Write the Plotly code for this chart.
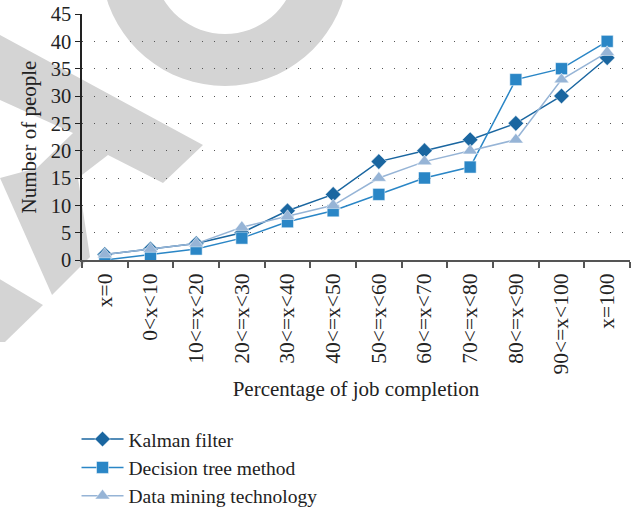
import math
import plotly.graph_objects as go

categories = ["x=0", "0<x<10", "10<=x<20", "20<=x<30", "30<=x<40", "40<=x<50",
              "50<=x<60", "60<=x<70", "70<=x<80", "80<=x<90", "90<=x<100", "x=100"]
kalman = [1, 2, 3, 5, 9, 12, 18, 20, 22, 25, 30, 37]
decision_tree = [0, 1, 2, 4, 7, 9, 12, 15, 17, 33, 35, 40]
data_mining = [1, 2, 3, 6, 8, 10, 15, 18, 20, 22, 33, 38]
y_ticks = [0, 5, 10, 15, 20, 25, 30, 35, 40, 45]

W, H = 635, 510
ML, MR, MT, MB = 82, 5, 14, 250
PW, PH = W - ML - MR, H - MT - MB

def to_paper(px, py):
    return ((px - ML) / PW, (H - MB - py) / PH)

def poly_path(pts):
    s = ""
    for i, (px, py) in enumerate(pts):
        x, y = to_paper(px, py)
        s += ("M" if i == 0 else "L") + f"{x:.4f},{y:.4f}"
    return s + "Z"

WM = "#d4d4d4"
shapes = []
shapes.append(dict(type="path", xref="paper", yref="paper", layer="below",
                   fillcolor=WM, line=dict(width=0),
                   path=poly_path([(0, 35), (203, 145), (163, 183), (108, 155), (78, 178),
                                   (90, 257), (52, 295), (0, 178), (37, 168), (73, 133),
                                   (0, 100)])))
shapes.append(dict(type="path", xref="paper", yref="paper", layer="below",
                   fillcolor=WM, line=dict(width=0),
                   path=poly_path([(-2, 278), (43, 305), (5, 342), (-2, 342)])))
cx, cy, R, r = 225, -38, 124, 72
outer = [(cx + R * math.cos(2 * math.pi * k / 72), cy + R * math.sin(2 * math.pi * k / 72)) for k in range(72)]
inner = [(cx + r * math.cos(-2 * math.pi * k / 72), cy + r * math.sin(-2 * math.pi * k / 72)) for k in range(72)]
shapes.append(dict(type="path", xref="paper", yref="paper", layer="below",
                   fillcolor=WM, line=dict(width=0),
                   path=poly_path(outer) + poly_path(inner)))

FONT = "Liberation Serif, Times New Roman, DejaVu Serif, serif"
TXT = "#222"
fig = go.Figure()
fig.add_trace(go.Scatter(x=categories, y=kalman, name="Kalman filter", mode="lines+markers",
                         line=dict(color="#1a66a0", width=1.5),
                         marker=dict(symbol="diamond", size=12, color="#1a66a0",
                                     line=dict(color="white", width=0.5))))
fig.add_trace(go.Scatter(x=categories, y=decision_tree, name="Decision tree method", mode="lines+markers",
                         line=dict(color="#2a86c6", width=1.5),
                         marker=dict(symbol="square", size=12, color="#2a86c6",
                                     line=dict(color="white", width=0.5))))
fig.add_trace(go.Scatter(x=categories, y=data_mining, name="Data mining technology", mode="lines+markers",
                         line=dict(color="#96b4d6", width=1.5),
                         marker=dict(symbol="triangle-up", size=13, color="#96b4d6",
                                     line=dict(color="white", width=0.5))))

fig.update_layout(
    width=W, height=H,
    margin=dict(l=ML, r=MR, t=MT, b=MB, autoexpand=False),
    paper_bgcolor="white", plot_bgcolor="rgba(0,0,0,0)",
    font=dict(family=FONT, size=20, color=TXT),
    shapes=shapes,
    showlegend=True,
    legend=dict(x=-0.01, y=-0.65, xanchor="left", yanchor="top",
                font=dict(family=FONT, size=19.5, color=TXT),
                bgcolor="rgba(0,0,0,0)", itemwidth=42, tracegroupgap=0),
    xaxis=dict(type="category", categoryorder="array", categoryarray=categories,
               range=[-0.5, 11.5], showgrid=False, zeroline=False,
               showline=True, linecolor="#555", linewidth=2,
               ticks="outside", tickson="boundaries", ticklen=6, tickcolor="#555", tickwidth=1.5,
               tickangle=-90, ticklabelstandoff=3,
               tickfont=dict(family=FONT, size=21.5, color=TXT),
               title=dict(text="Percentage of job completion", standoff=8,
                          font=dict(family=FONT, size=21, color=TXT))),
    yaxis=dict(range=[0, 45], tickvals=y_ticks, showgrid=True, gridcolor="#555",
               griddash="1px,11px", gridwidth=1, zeroline=False,
               showline=True, linecolor="#222", linewidth=1.5,
               ticks="outside", ticklen=5, tickcolor="#222",
               tickfont=dict(family=FONT, size=20.5, color=TXT),
               title=dict(text="Number of people", standoff=8,
                          font=dict(family=FONT, size=21, color=TXT))),
)

fig.write_html("out.html", config={"displayModeBar": False},
               post_script="document.body.style.margin='0';document.body.style.padding='0';")
